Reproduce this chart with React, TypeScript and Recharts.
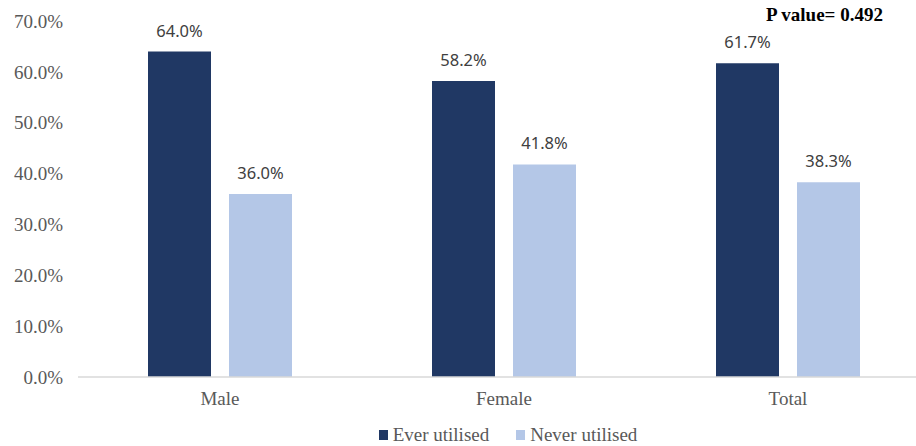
import React from 'react';
import { BarChart, Bar, XAxis, YAxis, Legend, LabelList } from 'recharts';

// categories and series
const categories = ['Male', 'Female', 'Total'];
const everUtilised = [64.0, 58.2, 61.7];
const neverUtilised = [36.0, 41.8, 38.3];
const yTicks = [0, 10, 20, 30, 40, 50, 60, 70];
const pValueText = 'P value= 0.492';

const DARK = '#203864';
const LIGHT = '#B4C7E7';
const SERIF = '"Liberation Serif", "Times New Roman", serif';
const SANS = '"Noto Sans", "Open Sans", sans-serif';

const chartData = categories.map((name, i) => ({
  name,
  ever: everUtilised[i],
  never: neverUtilised[i],
}));

const pct = (v: any) => `${Number(v).toFixed(1)}%`;

const LegendContent = () => (
  <div
    style={{
      display: 'flex',
      justifyContent: 'center',
      paddingLeft: 86,
      paddingTop: 12,
      fontFamily: SERIF,
      fontSize: 19,
      color: '#595959',
      lineHeight: '22px',
    }}
  >
    {[
      { label: 'Ever utilised', color: DARK },
      { label: 'Never utilised', color: LIGHT },
    ].map((item, i) => (
      <div key={item.label} style={{ display: 'flex', alignItems: 'center', marginLeft: i ? 27 : 0 }}>
        <span style={{ display: 'inline-block', width: 9, height: 10, background: item.color, marginRight: 5 }} />
        <span>{item.label}</span>
      </div>
    ))}
  </div>
);

export default function App() {
  return (
    <div style={{ position: 'absolute', left: 0, top: 0, width: 916, height: 446, overflow: 'hidden', background: '#fff' }}>
      <BarChart
        width={930}
        height={446}
        data={chartData}
        margin={{ top: 21, right: 0, left: 0, bottom: 0 }}
        barCategoryGap={70}
        barGap={18}
      >
        <XAxis
          dataKey="name"
          height={35}
          axisLine={{ stroke: '#D9D9D9', strokeWidth: 1.5 }}
          tickLine={false}
          tickSize={0}
          tickMargin={15}
          tick={{ fill: '#595959', fontFamily: SERIF, fontSize: 19 }}
        />
        <YAxis
          width={78}
          domain={[0, 70]}
          ticks={yTicks}
          axisLine={false}
          tickLine={false}
          tickSize={0}
          tickMargin={15}
          tickFormatter={pct}
          tick={{ fill: '#595959', fontFamily: SERIF, fontSize: 19 }}
        />
        <Legend verticalAlign="bottom" height={34} content={<LegendContent />} />
        <Bar dataKey="ever" name="Ever utilised" fill={DARK} isAnimationActive={false}>
          <LabelList dataKey="ever" position="top" offset={15} formatter={pct}
            style={{ fill: '#404040', fontFamily: SANS, fontSize: 16.5 }} />
        </Bar>
        <Bar dataKey="never" name="Never utilised" fill={LIGHT} isAnimationActive={false}>
          <LabelList dataKey="never" position="top" offset={15} formatter={pct}
            style={{ fill: '#404040', fontFamily: SANS, fontSize: 16.5 }} />
        </Bar>
      </BarChart>
      <div
        style={{
          position: 'absolute',
          left: 766,
          top: 4,
          fontFamily: SERIF,
          fontWeight: 'bold',
          fontSize: 19,
          lineHeight: '22px',
          color: '#000',
          whiteSpace: 'nowrap',
        }}
      >
        {pValueText}
      </div>
    </div>
  );
}
